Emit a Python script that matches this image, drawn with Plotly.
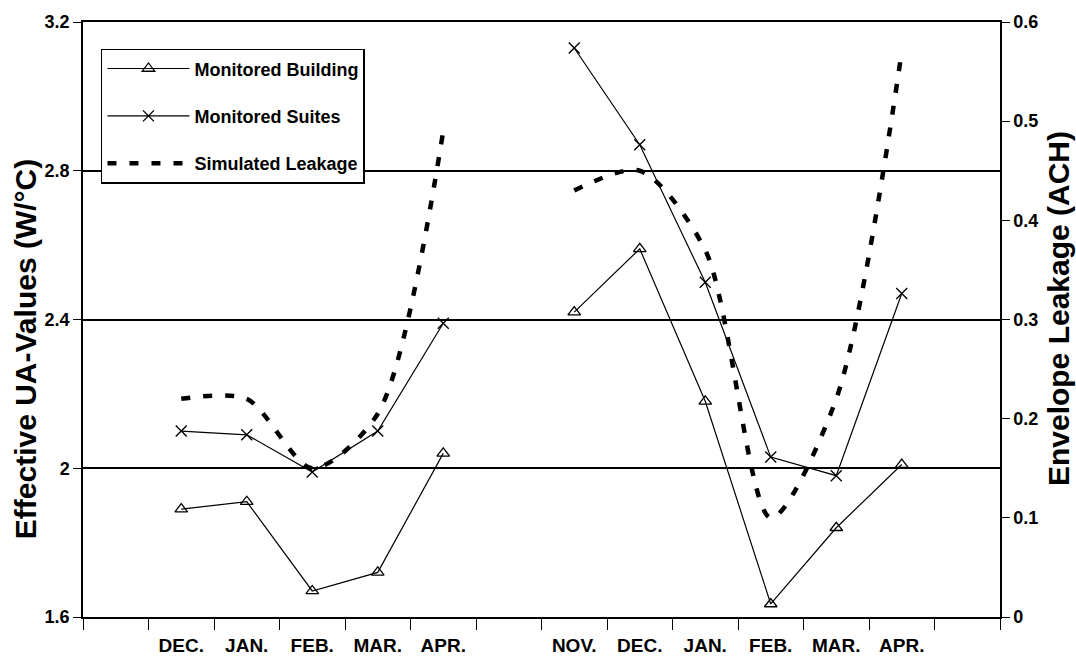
import plotly.graph_objects as go

# Monthly slots along the x axis (blank slots separate the two heating seasons)
months = ["", "DEC.", "JAN.", "FEB.", "MAR.", "APR.", "",
          "NOV.", "DEC.", "JAN.", "FEB.", "MAR.", "APR.", ""]

# Effective UA-values (W/°C)
monitored_building = [None, 1.89, 1.91, 1.67, 1.72, 2.04, None,
                      2.42, 2.59, 2.18, 1.635, 1.84, 2.01, None]
monitored_suites = [None, 2.10, 2.09, 1.99, 2.10, 2.39, None,
                    3.13, 2.87, 2.50, 2.03, 1.98, 2.47, None]

# Envelope leakage (ACH)
simulated_leakage = [None, 0.22, 0.22, 0.15, 0.205, 0.49, None,
                     0.43, 0.45, 0.37, 0.10, 0.22, 0.57, None]

ua_ticks = [1.6, 2.0, 2.4, 2.8, 3.2]
ach_ticks = [0, 0.1, 0.2, 0.3, 0.4, 0.5, 0.6]

slots = list(range(len(months)))
label_pos = [i for i, m in enumerate(months) if m]
label_txt = [m for m in months if m]

FONT = "Liberation Sans, Arial, sans-serif"
INK = "black"
BOLD = dict(family=FONT, color=INK, weight="bold")

fig = go.Figure()

fig.add_trace(go.Scatter(
    x=slots, y=monitored_building, name="Monitored Building",
    mode="lines+markers", connectgaps=False,
    line=dict(color=INK, width=1.2),
    marker=dict(symbol="triangle-up-open", size=11, color=INK,
                line=dict(width=1.3, color=INK)),
    legendgroup="a",
))
fig.add_trace(go.Scatter(
    x=slots, y=monitored_suites, name="Monitored Suites",
    mode="lines+markers", connectgaps=False,
    line=dict(color=INK, width=1.2),
    marker=dict(symbol="x-thin-open", size=11, color=INK,
                line=dict(width=1.4, color=INK)),
    legendgroup="b",
))
fig.add_trace(go.Scatter(
    x=slots, y=simulated_leakage, name="Simulated Leakage",
    mode="lines", connectgaps=False, yaxis="y2",
    line=dict(color=INK, width=4.5, dash="9px,13px", shape="spline",
              smoothing=0.8),
    legendgroup="c",
))

xr = [-0.5, len(months) - 0.5]

fig.update_layout(
    width=1076, height=669,
    margin=dict(l=83, r=76, t=20, b=52),
    paper_bgcolor="white", plot_bgcolor="white",
    font=dict(family=FONT, color=INK, size=18),
    showlegend=True,
    legend=dict(
        x=0.0196, y=0.955, xanchor="left", yanchor="top",
        bgcolor="white", bordercolor=INK, borderwidth=1.5,
        font=dict(size=18, **BOLD),
        traceorder="grouped", tracegroupgap=21, itemwidth=82,
    ),
    xaxis=dict(
        range=xr, tickmode="array", tickvals=label_pos, ticktext=label_txt,
        ticks="", showgrid=False, zeroline=False,
        showline=True, linecolor=INK, linewidth=1.5, mirror=True,
        tickfont=dict(size=19, **BOLD), ticklabelstandoff=10,
        minor=dict(tick0=0.5, dtick=1, ticks="outside", ticklen=11,
                   tickwidth=1.3, tickcolor=INK, showgrid=False),
    ),
    xaxis2=dict(
        range=xr, overlaying="x", anchor="y", side="bottom",
        showticklabels=False, ticks="", showgrid=False, zeroline=False,
        showline=False,
        minor=dict(tick0=0.5, dtick=1, ticks="inside", ticklen=8,
                   tickwidth=1.3, tickcolor=INK, showgrid=False),
    ),
    yaxis=dict(
        range=[1.6, 3.2], tickmode="array", tickvals=ua_ticks,
        ticks="outside", ticklen=8, tickwidth=1.3, tickcolor=INK,
        showgrid=True, gridcolor=INK, gridwidth=1.6, zeroline=False,
        showline=True, linecolor=INK, linewidth=1.5,
        tickfont=dict(size=18, **BOLD),
    ),
    yaxis2=dict(
        range=[0, 0.6], tickmode="array", tickvals=ach_ticks,
        overlaying="y", side="right", anchor="x",
        ticks="outside", ticklen=8, tickwidth=1.3, tickcolor=INK,
        showgrid=False, zeroline=False,
        showline=True, linecolor=INK, linewidth=1.5,
        tickfont=dict(size=18, **BOLD),
    ),
    yaxis3=dict(
        range=[0, 0.6], tickmode="array", tickvals=ach_ticks,
        overlaying="y", side="right", anchor="x",
        ticks="inside", ticklen=7, tickwidth=1.3, tickcolor=INK,
        showticklabels=False, showgrid=False, zeroline=False, showline=False,
    ),
    yaxis4=dict(
        range=[1.6, 3.2], tickmode="array", tickvals=ua_ticks,
        overlaying="y", side="left", anchor="x",
        ticks="inside", ticklen=7, tickwidth=1.3, tickcolor=INK,
        showticklabels=False, showgrid=False, zeroline=False, showline=False,
    ),
)

# Axis titles
fig.add_annotation(
    text="Effective UA-Values (W/°C)", textangle=-90, showarrow=False,
    xref="paper", yref="paper", x=-0.0633, y=0.45,
    xanchor="center", yanchor="middle", font=dict(size=30, **BOLD),
)
fig.add_annotation(
    text="Envelope Leakage (ACH)", textangle=-90, showarrow=False,
    xref="paper", yref="paper", x=1.0633, y=0.5176,
    xanchor="center", yanchor="middle", font=dict(size=30, **BOLD),
)

fig.write_html("out.html")
